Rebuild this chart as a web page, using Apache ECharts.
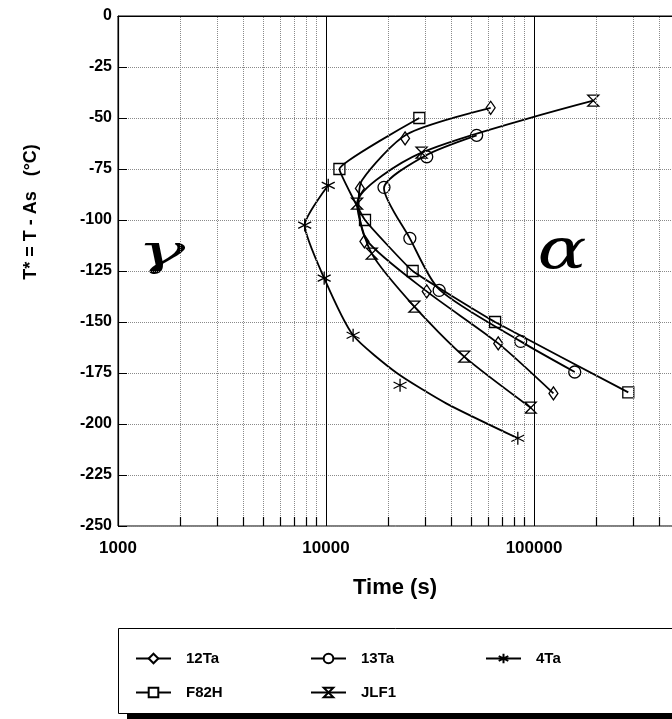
<!DOCTYPE html>
<html style="height: 100%">

<head>
    <meta charset="utf-8">
</head>

<body style="height: 100%; margin: 0">
    <div id="container" style="width: 672px; height: 719px"></div>
    <script src="https://cdn.jsdelivr.net/npm/echarts@6/dist/echarts.min.js"></script>
    <script type="text/javascript">
        // measured points, [time (s), T* (°C)]
        var pts12Ta = [[61900, -45], [24000, -60], [14550, -84.5], [15300, -110.5], [30500, -135], [67300, -160.5], [124000, -185]];
        var pts13Ta = [[53000, -58.5], [30500, -69], [19000, -84], [25300, -109], [35000, -134.5], [86300, -159.5], [157000, -174.5]];
        var pts4Ta = [[10250, -83], [7900, -102.5], [9800, -128.5], [13500, -156.5], [22700, -181], [83600, -207]];
        var ptsF82H = [[28100, -50], [11600, -75], [15400, -100], [26100, -125], [65000, -150], [284000, -184.5]];
        var ptsJLF1 = [[192700, -41.5], [28800, -67], [14100, -92], [16600, -116.5], [26600, -142.5], [46200, -167], [96400, -192]];

        // the drawn curves
        var fit12Ta = [[61900, -45], [24500, -58], [14900, -80.5], [14350, -92.5], [15700, -110], [30500, -135], [67300, -160.5], [124000, -185]];
        var fit13Ta = [[53000, -58.5], [30000, -68.5], [19000, -84.5], [25300, -109], [35000, -134], [86300, -159.5], [157000, -174.5]];
        var fit4Ta = [[10250, -83], [7900, -102.5], [9800, -128.5], [13500, -156.5], [21900, -175], [38000, -190], [83600, -207]];
        var fitF82H = [[28100, -50], [11600, -75], [15400, -100], [26100, -125], [65000, -150], [284000, -184.5]];
        var fitJLF1 = [[192700, -41.5], [28800, -67], [14100, -92], [16600, -116.5], [26600, -142.5], [46200, -167], [96400, -192]];

        var minorTimes = [2000, 3000, 4000, 5000, 6000, 7000, 8000, 9000,
            20000, 30000, 40000, 50000, 60000, 70000, 80000, 90000,
            200000, 300000, 400000, 500000, 600000, 700000, 800000, 900000];
        var yTicks = { min: -250, max: 0, step: 25 };

        var ASTER = 'path://M5,0L5,10M0.67,2.5L9.33,7.5M9.33,2.5L0.67,7.5';
        var HOURGLASS = 'path://M0,0L10,0L0,10L10,10Z';
        var FONT = '"Liberation Sans", Arial, sans-serif';

        var alloys = [
            { name: '12Ta', pts: pts12Ta, fit: fit12Ta, symbol: 'diamond', size: [9, 13], smooth: 0.25 },
            { name: '13Ta', pts: pts13Ta, fit: fit13Ta, symbol: 'circle', size: 12, smooth: 0.25 },
            { name: '4Ta', pts: pts4Ta, fit: fit4Ta, symbol: ASTER, size: 13, smooth: 0.2 },
            { name: 'F82H', pts: ptsF82H, fit: fitF82H, symbol: 'rect', size: 11, smooth: 0.1 },
            { name: 'JLF1', pts: ptsJLF1, fit: fitJLF1, symbol: HOURGLASS, size: [11, 11], smooth: 0.25 }
        ];

        var dom = document.getElementById("container");
        var myChart = echarts.init(dom);

        var series = [];
        // grid helper: dotted minor lines + short ticks on the bottom axis
        var gridLines = minorTimes.map(function (t) { return { xAxis: t }; });
        var tickLines = minorTimes.map(function (t) { return [{ coord: [t, -250] }, { coord: [t, -245.6] }]; });
        series.push({
            type: 'line', name: '', data: [], z: 1, silent: true,
            markLine: {
                silent: true, symbol: ['none', 'none'], label: { show: false }, animation: false,
                lineStyle: { color: '#8a8a8a', width: 1, type: 'dotted' },
                data: gridLines
            }
        });
        series.push({
            type: 'line', name: '', data: [], z: 1, silent: true,
            markLine: {
                silent: true, symbol: ['none', 'none'], label: { show: false }, animation: false,
                lineStyle: { color: '#000', width: 1.2, type: 'solid' },
                data: tickLines
            }
        });

        alloys.forEach(function (a) {
            series.push({
                type: 'line', name: a.name, data: a.fit, smooth: a.smooth,
                showSymbol: false, symbol: a.symbol, symbolSize: a.size,
                lineStyle: { color: '#000', width: 1.8 },
                itemStyle: { color: '#fff', borderColor: '#000', borderWidth: 1.2 },
                z: 3
            });
        });
        alloys.forEach(function (a) {
            series.push({
                type: 'scatter', name: a.name, data: a.pts,
                symbol: a.symbol, symbolSize: a.size,
                itemStyle: { color: 'rgba(0,0,0,0)', borderColor: '#000', borderWidth: 1.3, opacity: 1 },
                z: 4
            });
        });

        var legendPos = {
            '12Ta': [135, 651], '13Ta': [310, 651], '4Ta': [485, 651],
            'F82H': [135, 685], 'JLF1': [310, 685]
        };
        var legends = alloys.map(function (a) {
            return {
                data: [a.name], left: legendPos[a.name][0], top: legendPos[a.name][1],
                padding: 0, itemWidth: 35, itemHeight: 12, selectedMode: false,
                textStyle: { color: '#000', fontSize: 15, fontWeight: 'bold', fontFamily: FONT, padding: [0, 0, 0, 10] }
            };
        });

        var option = {
            animation: false,
            backgroundColor: '#fff',
            grid: {
                left: 118, top: 16, right: -70, bottom: 193, outerBoundsMode: 'none', containLabel: false,
                show: true, borderColor: '#000', borderWidth: 1
            },
            xAxis: {
                type: 'log', logBase: 10, min: 1000, max: 1000000,
                axisLine: { lineStyle: { color: '#000', width: 1.2 } },
                axisTick: { show: false },
                axisLabel: {
                    color: '#000', fontSize: 17, fontWeight: 'bold', fontFamily: FONT, margin: 14,
                    formatter: function (v) { return String(v); }
                },
                splitLine: { show: true, lineStyle: { color: '#000', width: 1, type: 'solid' } }
            },
            yAxis: {
                type: 'value', min: yTicks.min, max: yTicks.max, interval: yTicks.step,
                axisLine: { show: true, lineStyle: { color: '#000', width: 1.2 } },
                axisTick: { show: true, inside: true, length: 9, lineStyle: { color: '#000' } },
                axisLabel: { color: '#000', fontSize: 16, fontWeight: 'bold', fontFamily: FONT, margin: 6 },
                splitLine: { show: true, lineStyle: { color: '#8a8a8a', width: 1, type: 'dotted' } }
            },
            legend: legends,
            graphic: [
                {
                    type: 'rect', z: -10, silent: true,
                    shape: { x: 118.5, y: 628.5, width: 600, height: 85 },
                    style: { fill: '#fff', stroke: '#000', lineWidth: 1 }
                },
                {
                    type: 'rect', z: -10, silent: true,
                    shape: { x: 127, y: 713, width: 600, height: 7 },
                    style: { fill: '#000' }
                },
                {
                    type: 'text', x: 31, y: 212, rotation: Math.PI / 2, silent: true,
                    style: { text: 'T* = T - As   (°C)', font: 'bold 18px ' + FONT, fill: '#000', align: 'center', verticalAlign: 'middle' }
                },
                {
                    type: 'text', x: 395, y: 588, silent: true,
                    style: { text: 'Time (s)', font: 'bold 22px ' + FONT, fill: '#000', align: 'center', verticalAlign: 'middle' }
                },
                {
                    type: 'text', x: 161, y: 254, scaleX: 1.45, scaleY: 0.78, silent: true,
                    style: { text: 'γ', font: 'italic 56px "DejaVu Serif", serif', fill: '#000', align: 'center', verticalAlign: 'middle' }
                },
                {
                    type: 'text', x: 562, y: 254, scaleX: 1.1, scaleY: 0.84, silent: true,
                    style: { text: 'α', font: 'italic 66px "DejaVu Serif", serif', fill: '#000', align: 'center', verticalAlign: 'middle' }
                }
            ],
            series: series
        };

        myChart.setOption(option);
    </script>
</body>

</html>
